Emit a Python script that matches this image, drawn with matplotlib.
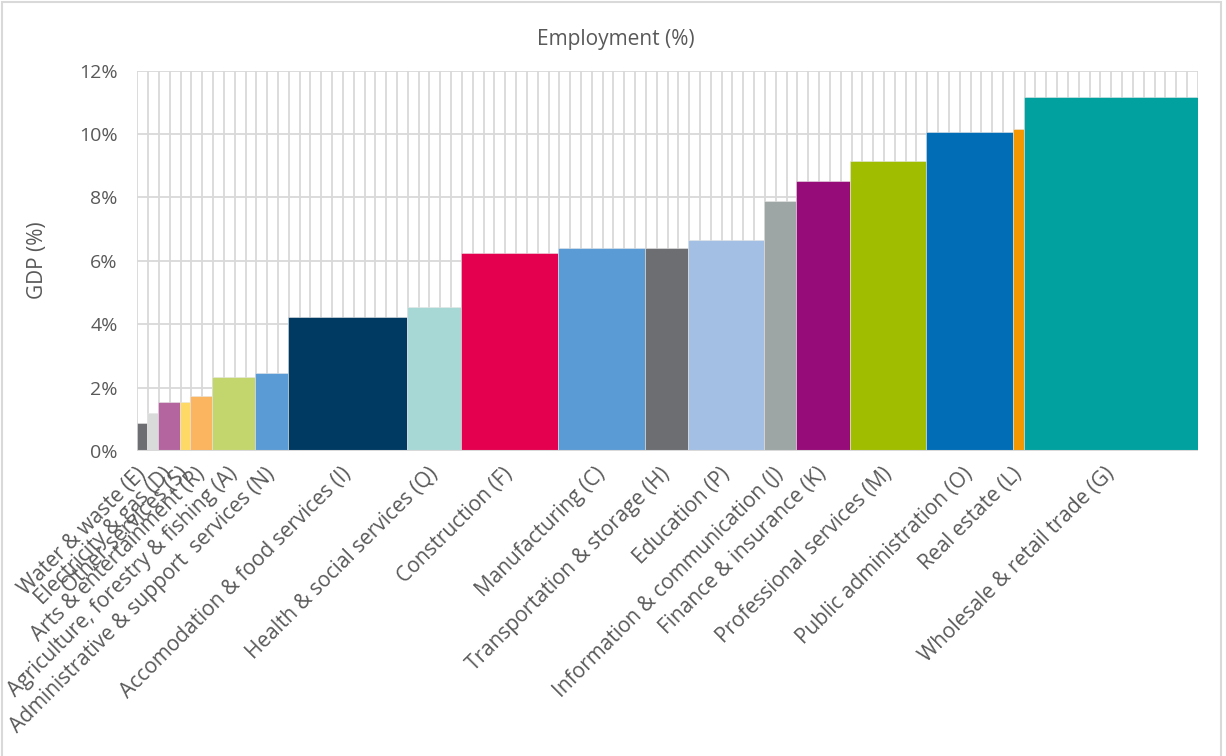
import numpy as np
from matplotlib import pyplot as plt
from matplotlib.patches import Rectangle
from matplotlib.transforms import ScaledTranslation

# Sectors sorted by GDP share; the Mining (B) bar carries no label in the original
labels = ['Water & waste (E)', '', 'Electricity & gas (D)', 'Other services (S)',
          'Arts & entertainment (R)', 'Agriculture, forestry & fishing (A)',
          'Administrative & support  services (N)', 'Accomodation & food services (I)',
          'Health & social services (Q)', 'Construction (F)', 'Manufacturing (C)',
          'Transportation & storage (H)', 'Education (P)',
          'Information & communication (J)', 'Finance & insurance (K)',
          'Professional services (M)', 'Public administration (O)',
          'Real estate (L)', 'Wholesale & retail trade (G)']
employment = [0.9, 1.0, 2.0, 1.0, 2.0, 4.0, 3.0, 11.0, 5.0, 9.0, 8.0, 4.0, 7.0,
              3.0, 5.0, 7.0, 8.0, 1.0, 16.1]
gdp = [0.87, 1.21, 1.56, 1.55, 1.75, 2.34, 2.45, 4.24, 4.55, 6.25, 6.40, 6.41,
       6.66, 7.89, 8.53, 9.16, 10.08, 10.17, 11.18]
colors = ['#6D6E71', '#D9DBDA', '#B4659F', '#FFD966', '#FBB45F', '#C3D66E',
          '#5B9BD5', '#003A63', '#A7D8D6', '#E4004F', '#5B9BD5', '#6D6E71',
          '#A3BFE3', '#9EA5A5', '#960C78', '#A0BD00', '#006DB6', '#F49700',
          '#00A19F']

plt.rcParams['font.family'] = ['Open Sans', 'DejaVu Sans']
text_col = '#595959'
grid_col = '#D9D9D9'

fig = plt.figure(figsize=(12.26, 7.56), dpi=100)
ax = fig.add_axes([0.112, 0.4034, 0.865, 0.5031])

# Cumulative employment gives each bar's left edge
lefts = np.concatenate([[0], np.cumsum(employment)[:-1]])
centers = lefts + np.array(employment) / 2

ax.bar(lefts, gdp, width=employment, align='edge', color=colors,
       edgecolor='#E6E6E6', linewidth=0.4, zorder=2)
ax.axhline(0, color=grid_col, linewidth=1.5, zorder=3)

ax.set_xlim(0, sum(employment))
ax.set_ylim(0, 12)
ax.set_yticks(np.arange(0, 13, 2))
ax.set_yticklabels([f'{v}%' for v in range(0, 13, 2)])
ax.set_xticks(np.arange(0, 99), minor=True)
ax.set_xticks(centers)
ax.set_xticklabels(labels, rotation=45, ha='right', rotation_mode='anchor',
                   fontsize=15, color=text_col)
ax.tick_params(axis='x', which='both', length=0, pad=9)
ax.tick_params(axis='y', length=0, pad=14, labelsize=14, labelcolor=text_col)

# nudge rotated labels a little left so their ends sit over the bar centres
shift = ScaledTranslation(-7 / 100, 0, fig.dpi_scale_trans)
for lab in ax.get_xticklabels():
	lab.set_transform(lab.get_transform() + shift)

ax.set_axisbelow(True)
ax.grid(axis='x', which='minor', color=grid_col, linewidth=1.3)
ax.grid(axis='x', which='major', visible=False)
ax.grid(axis='y', which='major', color=grid_col, linewidth=1.3)
for s in ax.spines.values():
	s.set_visible(False)

fig.text(37 / 1226, 1 - 260 / 756, 'GDP (%)', rotation=90, ha='center', va='center',
         fontsize=15, color=text_col)
fig.text(616 / 1226, 1 - 40 / 756, 'Employment (%)', ha='center', va='center',
         fontsize=15, color=text_col)

# Chart border
fig.patches.append(Rectangle((0.002, -0.01), 0.994, 1.007, transform=fig.transFigure,
                             fill=False, edgecolor=grid_col, linewidth=1.5))

plt.savefig('out.png', dpi=100)
